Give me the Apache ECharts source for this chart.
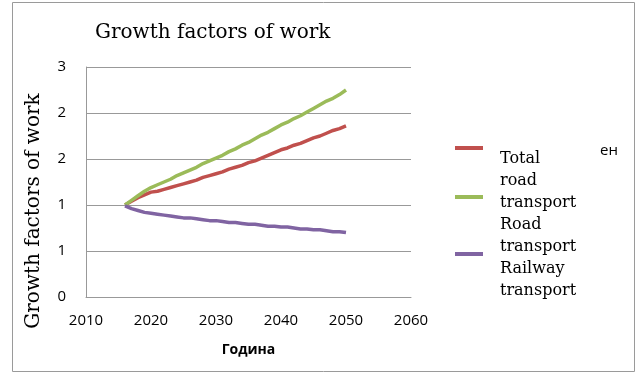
<!DOCTYPE html>
<html><head><meta charset="utf-8">
<script src="https://cdn.jsdelivr.net/npm/echarts@6/dist/echarts.min.js"></script>
<style>html,body{margin:0;padding:0;background:#fff}#c{width:640px;height:378px}</style>
</head><body><div id="c"></div>
<script>
var years = [2016,2017,2018,2019,2020,2021,2022,2023,2024,2025,2026,2027,2028,2029,2030,2031,2032,2033,2034,2035,2036,2037,2038,2039,2040,2041,2042,2043,2044,2045,2046,2047,2048,2049,2050];
var totalRoad = [1.00,1.04,1.08,1.11,1.14,1.15,1.17,1.19,1.21,1.23,1.25,1.27,1.30,1.32,1.34,1.36,1.39,1.41,1.43,1.46,1.48,1.51,1.54,1.57,1.60,1.62,1.65,1.67,1.70,1.73,1.75,1.78,1.81,1.83,1.86];
var road = [1.00,1.05,1.10,1.15,1.19,1.22,1.25,1.28,1.32,1.35,1.38,1.41,1.45,1.48,1.51,1.54,1.58,1.61,1.65,1.68,1.72,1.76,1.79,1.83,1.87,1.90,1.94,1.97,2.01,2.05,2.09,2.13,2.16,2.20,2.25];
var railway = [0.99,0.96,0.94,0.92,0.91,0.90,0.89,0.88,0.87,0.86,0.86,0.85,0.84,0.83,0.83,0.82,0.81,0.81,0.80,0.79,0.79,0.78,0.77,0.77,0.76,0.76,0.75,0.74,0.74,0.73,0.73,0.72,0.71,0.71,0.70];
var seriesNames = ['Total\nroad\ntransport','Road\ntransport','Railway\ntransport'];
var yTickLabels = ['0','1','1','2','2','3'];
var xTickLabels = ['2010','2020','2030','2040','2050','2060'];

function pairs(v){ return years.map(function(y,i){ return [y, v[i]]; }); }
var chart = echarts.init(document.getElementById('c'));
var colors = ['#C0504D','#9BBB59','#8064A2'];
function mkLegend(name, iconY, padTop){
  var nLines = name.split('\n').length;
  var blockH = padTop + nLines * 22;
  return {
    data:[name], orient:'vertical', left:455, top: iconY - blockH/2, padding:0,
    icon:'rect', itemWidth:28, itemHeight:4,
    selectedMode:false,
    formatter:function(n){
      return '{p| }\n' + n.split('\n').map(function(s){ return '{t|' + s + '}'; }).join('\n');
    },
    textStyle:{
      rich:{
        p:{height:padTop, lineHeight:padTop, fontSize:1},
        t:{fontFamily:'DejaVu Serif', fontSize:16, color:'#000', lineHeight:22, padding:[0,0,0,12]}
      }
    }
  };
}
chart.setOption({
  animation:false,
  graphic:[
    {type:'rect', shape:{x:12.5,y:2.5,width:622,height:369}, style:{fill:'none',stroke:'#9a9a9a',lineWidth:1}},
    {type:'text', left:600, top:143, style:{text:'ен', font:'15px "Open Sans"', fill:'#000'}}
  ],
  title:{text:'Growth factors of work', left:90, top:18,
    textStyle:{fontFamily:'DejaVu Serif', fontWeight:'normal', fontSize:20, color:'#000'}},
  legend:[
    mkLegend(seriesNames[0], 148, 66),
    mkLegend(seriesNames[1], 197, 78),
    mkLegend(seriesNames[2], 254, 52)
  ],
  grid:{left:86, right:229, top:67, bottom:81, containLabel:false},
  xAxis:{type:'value', min:2010, max:2060, interval:10,
    name:'Година', nameLocation:'middle', nameGap:46,
    nameTextStyle:{fontFamily:'Open Sans', fontWeight:'bold', fontSize:14, color:'#000'},
    axisLine:{show:true, lineStyle:{color:'#999', width:1}},
    axisTick:{show:false}, splitLine:{show:false},
    axisLabel:{margin:16, fontFamily:'Open Sans', fontSize:15, color:'#000',
      formatter:function(v){ return xTickLabels[Math.round((v-2010)/10)]; }}
  },
  yAxis:{type:'value', min:0, max:2.5, interval:0.5,
    name:'Growth factors of work', nameLocation:'middle', nameGap:42,
    nameTextStyle:{fontFamily:'DejaVu Serif', fontSize:20, color:'#000', padding:[0,58,0,0]},
    axisLine:{show:true, lineStyle:{color:'#999', width:1}},
    axisTick:{show:false},
    splitLine:{show:true, lineStyle:{color:'#999', width:1}},
    axisLabel:{margin:20, fontFamily:'Open Sans', fontSize:15, color:'#000',
      formatter:function(v){ return yTickLabels[Math.round(v/0.5)]; }}
  },
  series:[
    {name:seriesNames[0], type:'line', data:pairs(totalRoad), showSymbol:false, symbol:'none', lineStyle:{width:3.5,color:colors[0]}, itemStyle:{color:colors[0]}},
    {name:seriesNames[1], type:'line', data:pairs(road), showSymbol:false, symbol:'none', lineStyle:{width:3.5,color:colors[1]}, itemStyle:{color:colors[1]}},
    {name:seriesNames[2], type:'line', data:pairs(railway), showSymbol:false, symbol:'none', lineStyle:{width:3.5,color:colors[2]}, itemStyle:{color:colors[2]}}
  ]
});
</script></body></html>
